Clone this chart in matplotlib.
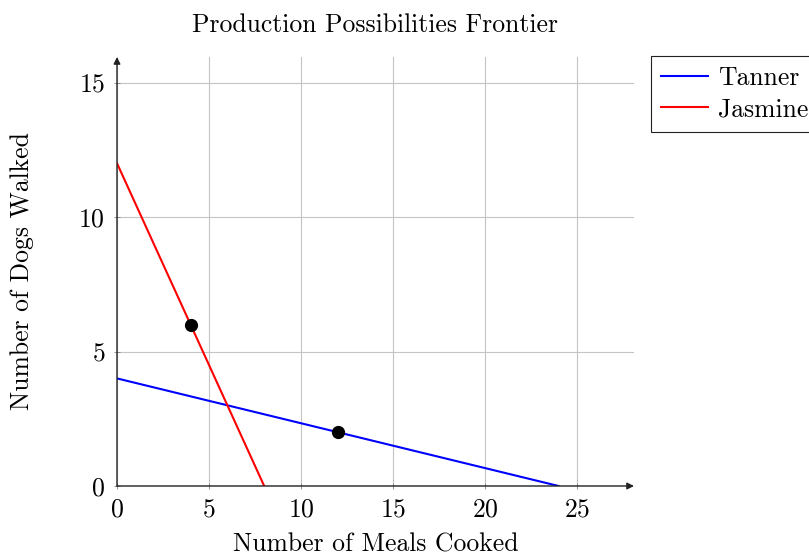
import matplotlib
matplotlib.use("Agg")
import matplotlib.pyplot as plt

plt.rcParams['font.family'] = 'serif'
plt.rcParams['font.serif'] = ['cmr10', 'DejaVu Serif']
plt.rcParams['mathtext.fontset'] = 'cm'
plt.rcParams['axes.unicode_minus'] = False
plt.rcParams['axes.formatter.use_mathtext'] = True

tanner_x = [0, 24]
tanner_y = [4, 0]
jasmine_x = [0, 8]
jasmine_y = [12, 0]
points_x = [4, 12]
points_y = [6, 2]
xticks = [0, 5, 10, 15, 20, 25]
yticks = [0, 5, 10, 15]

FS = 18.5

fig = plt.figure(figsize=(8.09, 5.56), dpi=100)
ax = fig.add_axes([117/809, 1-486/556, (634-117)/809, (486-57)/556])

ax.plot(tanner_x, tanner_y, color='blue', lw=1.5, label='Tanner', zorder=3)
ax.plot(jasmine_x, jasmine_y, color='red', lw=1.5, label='Jasmine', zorder=3)
ax.plot(points_x, points_y, 'o', color='black', ms=8.5, zorder=4)

ax.set_xlim(0, 28.1)
ax.set_ylim(0, 15.95)
ax.set_xticks(xticks)
ax.set_yticks(yticks)
ax.grid(True, color='#c4c4c4', lw=0.8)
ax.set_axisbelow(True)
for s in ['top', 'right', 'left', 'bottom']:
    ax.spines[s].set_visible(False)
ax.tick_params(direction='inout', length=5, width=0.6, color='#808080',
               labelsize=FS)
ax.tick_params(axis='x', pad=6)
ax.tick_params(axis='y', pad=6)

# axis lines with arrows
ax.annotate('', xy=(1, 0), xytext=(0, 0), xycoords='axes fraction',
            arrowprops=dict(arrowstyle='-|>', color='#222222', lw=1.0,
                            mutation_scale=10, shrinkA=0, shrinkB=0), zorder=5)
ax.annotate('', xy=(0, 1), xytext=(0, 0), xycoords='axes fraction',
            arrowprops=dict(arrowstyle='-|>', color='#222222', lw=1.0,
                            mutation_scale=10, shrinkA=0, shrinkB=0), zorder=5)

ax.set_title('Production Possibilities Frontier', fontsize=FS, pad=18)
ax.set_xlabel('Number of Meals Cooked', fontsize=FS, labelpad=8)
ax.set_ylabel('Number of Dogs Walked', fontsize=FS, labelpad=32)

leg = ax.legend(loc='upper left', bbox_to_anchor=(651/809, 1-56/556),
                bbox_transform=fig.transFigure, fontsize=FS, frameon=True,
                fancybox=False, edgecolor='#222222', framealpha=1,
                handlelength=1.8, borderpad=0.4, labelspacing=0.3,
                handletextpad=0.4, borderaxespad=0)
leg.get_frame().set_linewidth(0.8)

fig.savefig('out.png', dpi=100)
